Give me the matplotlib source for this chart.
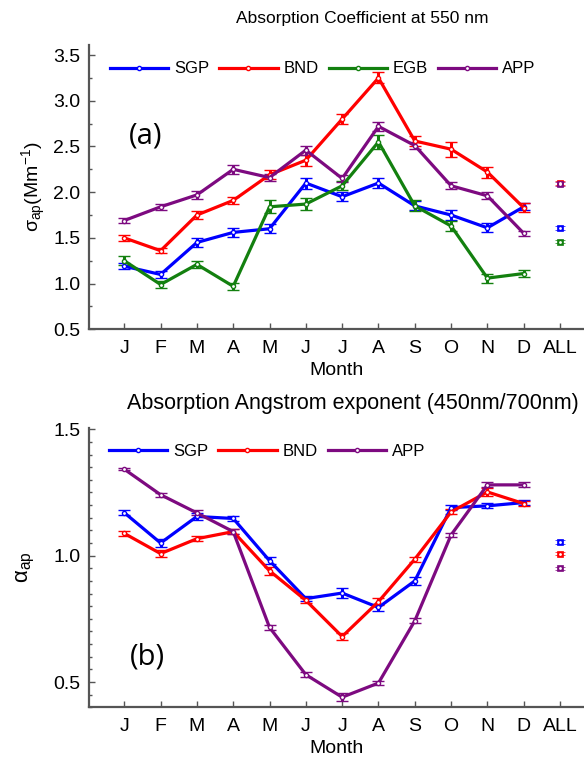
import matplotlib
matplotlib.use("Agg")
import matplotlib.pyplot as plt
from matplotlib.lines import Line2D
import numpy as np

plt.rcParams['font.family'] = ['Liberation Sans', 'DejaVu Sans']
plt.rcParams['mathtext.fontset'] = 'custom'
plt.rcParams['mathtext.rm'] = 'Liberation Sans'
plt.rcParams['mathtext.it'] = 'Liberation Sans:italic'
plt.rcParams['mathtext.sf'] = 'Liberation Sans'

months = ['J', 'F', 'M', 'A', 'M', 'J', 'J', 'A', 'S', 'O', 'N', 'D', 'ALL']

# Panel (a): absorption coefficient at 550 nm (Mm^-1), 12 months + ALL
sgp_a = [1.19, 1.10, 1.45, 1.56, 1.60, 2.10, 1.95, 2.10, 1.85, 1.75, 1.61, 1.84, 1.61]
bnd_a = [1.50, 1.36, 1.75, 1.91, 2.19, 2.35, 2.80, 3.25, 2.56, 2.47, 2.22, 1.83, 2.10]
egb_a = [1.25, 0.99, 1.21, 0.97, 1.84, 1.87, 2.07, 2.55, 1.85, 1.63, 1.06, 1.11, 1.46]
app_a = [1.69, 1.84, 1.97, 2.25, 2.16, 2.46, 2.15, 2.72, 2.51, 2.07, 1.96, 1.55, 2.09]
sgp_a_err = [0.03, 0.04, 0.05, 0.05, 0.05, 0.06, 0.05, 0.05, 0.05, 0.05, 0.05, 0.04, 0.02]
bnd_a_err = [0.03, 0.03, 0.04, 0.04, 0.05, 0.06, 0.05, 0.06, 0.06, 0.08, 0.06, 0.05, 0.02]
egb_a_err = [0.05, 0.04, 0.04, 0.04, 0.07, 0.07, 0.05, 0.08, 0.06, 0.06, 0.05, 0.04, 0.02]
app_a_err = [0.03, 0.03, 0.04, 0.05, 0.04, 0.05, 0.04, 0.05, 0.04, 0.04, 0.04, 0.03, 0.02]

# Panel (b): absorption Angstrom exponent (450/700 nm)
sgp_b = [1.17, 1.05, 1.155, 1.147, 0.98, 0.83, 0.852, 0.795, 0.90, 1.19, 1.197, 1.21, 1.055]
bnd_b = [1.088, 1.008, 1.067, 1.095, 0.94, 0.823, 0.68, 0.818, 0.986, 1.173, 1.252, 1.206, 1.008]
app_b = [1.342, 1.241, 1.169, 1.095, 0.716, 0.529, 0.44, 0.496, 0.742, 1.082, 1.28, 1.28, 0.95]
sgp_b_err = [0.01, 0.015, 0.015, 0.01, 0.015, 0.01, 0.02, 0.015, 0.015, 0.01, 0.01, 0.01, 0.007]
bnd_b_err = [0.01, 0.015, 0.01, 0.01, 0.015, 0.01, 0.015, 0.015, 0.01, 0.01, 0.015, 0.01, 0.007]
app_b_err = [0.005, 0.008, 0.01, 0.01, 0.01, 0.01, 0.015, 0.008, 0.01, 0.008, 0.01, 0.01, 0.007]

C_SGP = '#0000ff'
C_BND = '#ff0000'
C_EGB = '#13800f'
C_APP = '#7d0a80'

W, H = 584, 758
fig = plt.figure(figsize=(W / 100, H / 100), dpi=100)

ax1 = fig.add_axes([88.7 / W, 1 - 329.3 / H, (W - 88.7) / W, (329.3 - 45) / H])
ax2 = fig.add_axes([88.7 / W, 1 - 707.3 / H, (W - 88.7) / W, (707.3 - 428) / H])

x = np.arange(1, 14)
xm = x[:12]


def draw(ax, vals, errs, color, label):
    v = np.array(vals)
    e = np.array(errs)
    ax.errorbar(xm, v[:12], yerr=e[:12], color=color, lw=2.3, capsize=4,
                capthick=2.2, elinewidth=2.2, marker='o', ms=3,
                mfc='white', mec=color, mew=1, label=label, zorder=3)
    ax.errorbar(x[12:], v[12:], yerr=e[12:], color=color, lw=0, capsize=3.5,
                capthick=2.5, elinewidth=2.5, marker='s', ms=4.5,
                mfc=color, mec=color, mew=0.5, zorder=3)
    ax.plot(x[12:], v[12:], lw=0, marker='o', ms=2, mfc='white', mec='white',
            mew=0, zorder=4)


for vals, errs, c, lab in [(sgp_a, sgp_a_err, C_SGP, 'SGP'),
                           (bnd_a, bnd_a_err, C_BND, 'BND'),
                           (egb_a, egb_a_err, C_EGB, 'EGB'),
                           (app_a, app_a_err, C_APP, 'APP')]:
    draw(ax1, vals, errs, c, lab)

for vals, errs, c, lab in [(sgp_b, sgp_b_err, C_SGP, 'SGP'),
                           (bnd_b, bnd_b_err, C_BND, 'BND'),
                           (app_b, app_b_err, C_APP, 'APP')]:
    draw(ax2, vals, errs, c, lab)

spine_c = '#555555'
for ax in (ax1, ax2):
    for s in ('top', 'right'):
        ax.spines[s].set_visible(False)
    for s in ('left', 'bottom'):
        ax.spines[s].set_color(spine_c)
        ax.spines[s].set_linewidth(1.6)
    ax.set_xlim(0.02, 13.66)
    ax.set_xticks(x)
    ax.set_xticklabels(months)
    ax.tick_params(axis='both', which='major', direction='in', length=4,
                   width=1, color=spine_c, labelsize=14, pad=6)
    ax.tick_params(axis='y', which='minor', direction='in', length=2.5,
                   width=1, color=spine_c)
    ax.tick_params(axis='x', which='major', pad=8)
    ax.set_xlabel('Month', fontsize=14, labelpad=3)
    ax.set_facecolor('none')

ax1.set_ylim(0.5, 3.61)
ax1.set_yticks([0.5, 1.0, 1.5, 2.0, 2.5, 3.0, 3.5])
ax1.set_yticklabels(['0.5', '1.0', '1.5', '2.0', '2.5', '3.0', '3.5'])
ax1.set_yticks(np.arange(0.75, 3.6, 0.5), minor=True)
ax1.set_ylabel('σ$_{\\mathrm{ap}}$(Mm$^{-1}$)', fontsize=14, labelpad=4)

ax2.set_ylim(0.4, 1.505)
ax2.set_yticks([0.5, 1.0, 1.5])
ax2.set_yticklabels(['0.5', '1.0', '1.5'])
ax2.set_yticks([v for v in np.round(np.arange(0.4, 1.5, 0.05), 2) if v not in (0.5, 1.0, 1.5)], minor=True)
ax2.set_ylabel('α$_{\\mathrm{ap}}$', fontsize=16, labelpad=12)

fig.text(362 / W, 1 - 18 / H, 'Absorption Coefficient at 550 nm', ha='center', va='center', fontsize=12.5)
fig.text(353 / W, 1 - 403 / H, 'Absorption Angstrom exponent (450nm/700nm)', ha='center', va='center', fontsize=15.5)

ax1.text(1.6, 2.61, '(a)', fontsize=21, family=['Open Sans', 'DejaVu Sans'], ha='center', va='center')
ax2.text(1.65, 0.6, '(b)', fontsize=21, family=['Open Sans', 'DejaVu Sans'], ha='center', va='center')


def handles(items):
    return [Line2D([0], [0], color=c, lw=2.3, marker='o', ms=3, mfc='white', mec=c, mew=1)
            for c in items]


leg_kw = dict(frameon=False, handlelength=3.5, handletextpad=0.35, columnspacing=0.6,
              borderpad=0, borderaxespad=0, loc='center left', fontsize=12)
ax1.legend(handles([C_SGP, C_BND, C_EGB, C_APP]), ['SGP', 'BND', 'EGB', 'APP'], ncol=4,
           bbox_to_anchor=((110 - 88.7) / (W - 88.7), (329.3 - 69) / (329.3 - 45)), **leg_kw)
ax2.legend(handles([C_SGP, C_BND, C_APP]), ['SGP', 'BND', 'APP'], ncol=3,
           bbox_to_anchor=((109 - 88.7) / (W - 88.7), (707.3 - 451) / (707.3 - 428)), **leg_kw)

fig.savefig('out.png', dpi=100)
